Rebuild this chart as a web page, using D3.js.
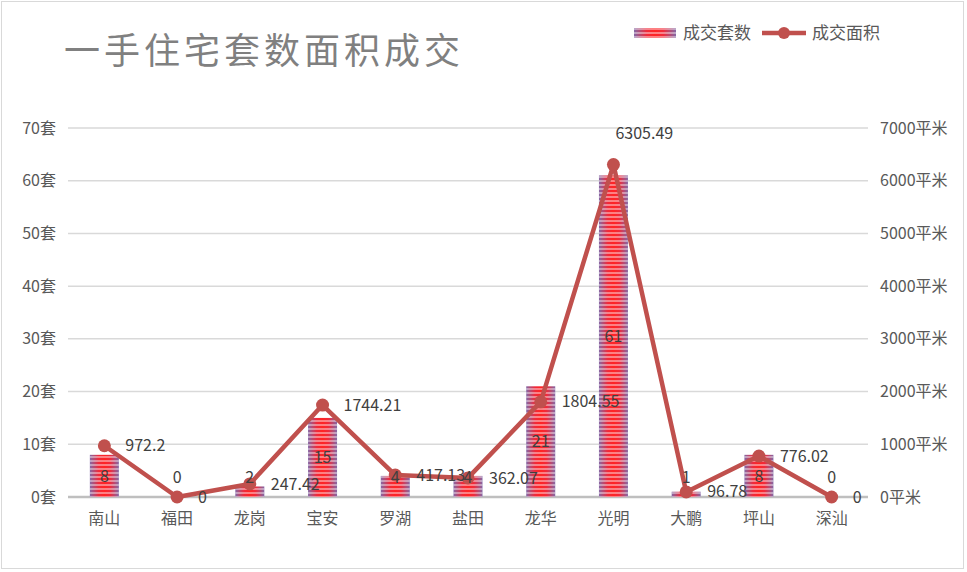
<!DOCTYPE html>
<html>
<head>
<meta charset="utf-8">
<script src="https://cdn.jsdelivr.net/npm/d3@7"></script>
<style>
  body { margin: 0; background: #fff; }
  text { font-family: "Noto Sans CJK SC", "Noto Sans", sans-serif; }
</style>
</head>
<body>
<div id="chart"></div>
<script>
// data
let districts = ['南山', '福田', '龙岗', '宝安', '罗湖', '盐田', '龙华', '光明', '大鹏', '坪山', '深汕']
let units = [8, 0, 2, 15, 4, 4, 21, 61, 1, 8, 0]
let areas = [972.2, 0, 247.42, 1744.21, 417.13, 362.07, 1804.55, 6305.49, 96.78, 776.02, 0]
let unitTicks = [0, 10, 20, 30, 40, 50, 60, 70]
let areaTicks = [0, 1000, 2000, 3000, 4000, 5000, 6000, 7000]
let seriesNames = ['成交套数', '成交面积']

let W = 967, H = 572
let margin = {top: 128, right: 99, left: 68, bottom: 75}
let width = W - margin.left - margin.right
let height = 369

let svg = d3.select('div#chart')
  .append('svg')
    .attr('width', W)
    .attr('height', H)

// outer frame
svg.append('rect')
  .attr('x', 1.5).attr('y', 1.5)
  .attr('width', W - 5).attr('height', H - 5)
  .attr('fill', '#fff')
  .attr('stroke', '#d9d9d9')

// bar fill: purple edges to red centre, with light stripes
let defs = svg.append('defs')
let grad = defs.append('linearGradient').attr('id', 'barGrad')
  .attr('x1', '0%').attr('x2', '100%').attr('y1', '0%').attr('y2', '0%')
grad.append('stop').attr('offset', '0%').attr('stop-color', '#8468a6')
grad.append('stop').attr('offset', '30%').attr('stop-color', '#f02a3a')
grad.append('stop').attr('offset', '50%').attr('stop-color', '#ff2424')
grad.append('stop').attr('offset', '70%').attr('stop-color', '#f02a3a')
grad.append('stop').attr('offset', '100%').attr('stop-color', '#8468a6')

let stripes = defs.append('pattern').attr('id', 'stripes')
  .attr('patternUnits', 'userSpaceOnUse')
  .attr('width', 4).attr('height', 4)
stripes.append('rect').attr('x', 0).attr('y', 0).attr('width', 4).attr('height', 2)
  .attr('fill', '#ffffff').attr('opacity', 0.42)

let g = svg.append('g')
  .attr('transform', `translate(${margin.left}, ${margin.top})`)

let x = d3.scaleBand().domain(districts).range([0, width])
let yL = d3.scaleLinear().domain([0, 70]).range([height, 0])
let yR = d3.scaleLinear().domain([0, 7000]).range([height, 0])

// grid
g.append('g')
  .selectAll('line')
  .data(unitTicks)
  .enter().append('line')
  .attr('x1', 0).attr('x2', width)
  .attr('y1', d => yL(d)).attr('y2', d => yL(d))
  .attr('stroke', d => d === 0 ? '#bfbfbf' : '#d9d9d9')
  .attr('stroke-width', d => d === 0 ? 2.5 : 1.5)

// axes
let leftAxis = g.append('g')
  .call(d3.axisLeft(yL).tickValues(unitTicks).tickSize(0).tickPadding(12).tickFormat(d => d + '套'))
leftAxis.select('.domain').remove()

let rightAxis = g.append('g')
  .attr('transform', `translate(${width}, 0)`)
  .call(d3.axisRight(yR).tickValues(areaTicks).tickSize(0).tickPadding(12).tickFormat(d => d + '平米'))
rightAxis.select('.domain').remove()

let bottomAxis = g.append('g')
  .attr('transform', `translate(0, ${height})`)
  .call(d3.axisBottom(x).tickSize(0).tickPadding(16))
bottomAxis.select('.domain').remove()

g.selectAll('.tick text')
  .attr('font-size', 16)
  .attr('fill', '#595959')
  .style('font-family', '"Noto Sans CJK SC", sans-serif')

// bars
let barW = 29
let bars = g.append('g')
bars.selectAll('rect.base')
  .data(units)
  .enter().append('rect')
  .attr('class', 'base')
  .attr('x', (d, i) => x(districts[i]) + x.bandwidth() / 2 - barW / 2)
  .attr('y', d => yL(d))
  .attr('width', barW)
  .attr('height', d => height - yL(d))
  .attr('fill', 'url(#barGrad)')
bars.selectAll('rect.stripe')
  .data(units)
  .enter().append('rect')
  .attr('class', 'stripe')
  .attr('x', (d, i) => x(districts[i]) + x.bandwidth() / 2 - barW / 2)
  .attr('y', d => yL(d))
  .attr('width', barW)
  .attr('height', d => height - yL(d))
  .attr('fill', 'url(#stripes)')

// line
let cx = i => x(districts[i]) + x.bandwidth() / 2
let line = d3.line()
  .x((d, i) => cx(i))
  .y(d => yR(d))

g.append('path')
  .datum(areas)
  .attr('d', line)
  .attr('fill', 'none')
  .attr('stroke', '#c0504d')
  .attr('stroke-width', 4.5)
  .attr('stroke-linejoin', 'round')

g.selectAll('circle.pt')
  .data(areas)
  .enter().append('circle')
  .attr('class', 'pt')
  .attr('cx', (d, i) => cx(i))
  .attr('cy', d => yR(d))
  .attr('r', 6.5)
  .attr('fill', '#c0504d')

// bar labels, centred in bar
g.selectAll('text.blab')
  .data(units)
  .enter().append('text')
  .attr('class', 'blab')
  .attr('x', (d, i) => cx(i))
  .attr('y', d => Math.min((yL(d) + height) / 2, height - 20))
  .attr('dy', '0.35em')
  .attr('text-anchor', 'middle')
  .attr('font-size', 16)
  .attr('fill', '#404040')
  .text(d => d)

// line labels, to the right (peak goes above)
let peak = d3.maxIndex(areas)
g.selectAll('text.llab')
  .data(areas)
  .enter().append('text')
  .attr('class', 'llab')
  .attr('x', (d, i) => i === peak ? cx(i) + 2 : cx(i) + 21)
  .attr('y', (d, i) => i === peak ? yR(d) - 31 : yR(d))
  .attr('dy', '0.35em')
  .attr('font-size', 16)
  .attr('fill', '#404040')
  .text(d => d)

// title
svg.append('text')
  .attr('x', 64)
  .attr('y', 64)
  .attr('font-size', 36)
  .attr('letter-spacing', 4)
  .attr('fill', '#808080')
  .text('一手住宅套数面积成交')

// legend
let legend = svg.append('g')
legend.append('rect')
  .attr('x', 634).attr('y', 28).attr('width', 42).attr('height', 10)
  .attr('fill', 'url(#barGrad)')
legend.append('rect')
  .attr('x', 634).attr('y', 28).attr('width', 42).attr('height', 10)
  .attr('fill', 'url(#stripes)')
legend.append('text')
  .attr('x', 683).attr('y', 33).attr('dy', '0.35em')
  .attr('font-size', 17).attr('fill', '#595959')
  .text(seriesNames[0])
legend.append('line')
  .attr('x1', 762).attr('x2', 806).attr('y1', 33).attr('y2', 33)
  .attr('stroke', '#c0504d').attr('stroke-width', 4.5)
legend.append('circle')
  .attr('cx', 784).attr('cy', 33).attr('r', 6)
  .attr('fill', '#c0504d')
legend.append('text')
  .attr('x', 812).attr('y', 33).attr('dy', '0.35em')
  .attr('font-size', 17).attr('fill', '#595959')
  .text(seriesNames[1])
</script>
</body>
</html>
